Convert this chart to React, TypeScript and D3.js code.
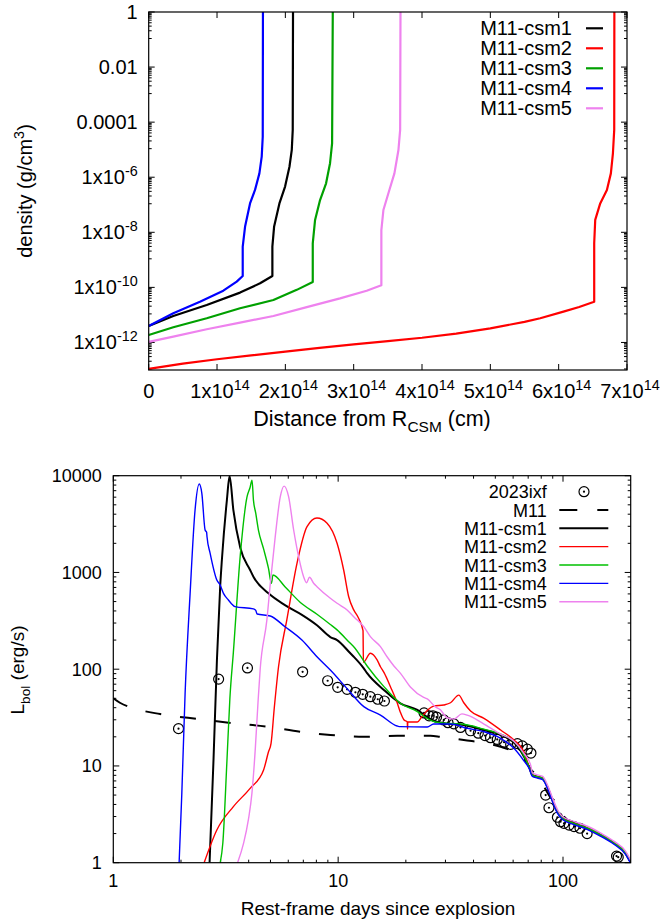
import React from 'react';
import * as d3 from 'd3';

const FONT = "'Liberation Sans', Arial, Helvetica, sans-serif";

// ---------------- Top panel: density profiles ----------------
const csm1R = [0, 0.36e14, 0.849e14, 1.337e14, 1.63e14, 1.81e14, 1.81e14, 1.835e14, 1.913e14, 1.996e14, 2.06e14, 2.094e14, 2.108e14, 2.112e14];
const csm1Rho = [3.98e-12, 9.12e-12, 2.29e-11, 6.46e-11, 1.41e-10, 2.6e-10, 3.02e-9, 1.58e-8, 1.12e-7, 4.57e-7, 2.4e-6, 9.77e-6, 5.25e-5, 1];

const csm2R = [0, 0.5e14, 1e14, 1.5e14, 2e14, 2.5e14, 3e14, 3.5e14, 4e14, 4.5e14, 5e14, 5.5e14, 5.73e14, 6.07e14, 6.3e14, 6.52e14, 6.52e14, 6.535e14, 6.608e14, 6.706e14, 6.764e14, 6.794e14, 6.813e14, 6.815e14];
const csm2Rho = [1.1e-13, 1.7e-13, 2.45e-13, 3.39e-13, 4.68e-13, 6.31e-13, 8.51e-13, 1.12e-12, 1.48e-12, 2.09e-12, 3.24e-12, 5.62e-12, 7.59e-12, 1.32e-11, 1.95e-11, 3.02e-11, 3.98e-9, 2.82e-8, 1.12e-7, 3.47e-7, 1.38e-6, 7.41e-6, 5.25e-5, 1];

const csm3R = [0, 0.36e14, 0.849e14, 1.337e14, 1.825e14, 2.167e14, 2.401e14, 2.401e14, 2.435e14, 2.508e14, 2.596e14, 2.654e14, 2.684e14, 2.694e14];
const csm3Rho = [1.86e-12, 3.55e-12, 7.59e-12, 1.74e-11, 3.47e-11, 8.13e-11, 1.58e-10, 3.98e-9, 2.82e-8, 1.48e-7, 6.03e-7, 3.24e-6, 1.7e-5, 1];

const csm4R = [0, 0.36e14, 0.75e14, 1.092e14, 1.288e14, 1.376e14, 1.376e14, 1.41e14, 1.483e14, 1.556e14, 1.62e14, 1.654e14, 1.669e14, 1.672e14];
const csm4Rho = [3.98e-12, 1.15e-11, 3.02e-11, 7.59e-11, 1.62e-10, 2.6e-10, 3.02e-9, 1.58e-8, 1.12e-7, 3.47e-7, 1.38e-6, 5.62e-6, 2.95e-5, 1];

const csm5R = [0, 0.36e14, 0.849e14, 1.337e14, 1.825e14, 2.313e14, 2.8e14, 3.19e14, 3.405e14, 3.405e14, 3.435e14, 3.508e14, 3.596e14, 3.655e14, 3.68e14, 3.685e14];
const csm5Rho = [1.05e-12, 1.62e-12, 3.02e-12, 5.25e-12, 9.12e-12, 1.91e-11, 3.98e-11, 7.59e-11, 1.2e-10, 1.2e-8, 6.46e-8, 2.63e-7, 1.38e-6, 9.77e-6, 5.25e-5, 1];

const topNames = ['M11-csm1', 'M11-csm2', 'M11-csm3', 'M11-csm4', 'M11-csm5'];
const topColors = ['#000000', '#ff0000', '#00a000', '#0000ff', '#ee82ee'];

const topXTicks = [0, 1e14, 2e14, 3e14, 4e14, 5e14, 6e14, 7e14];
const topXTickText = ['0', '1x10^{14}', '2x10^{14}', '3x10^{14}', '4x10^{14}', '5x10^{14}', '6x10^{14}', '7x10^{14}'];
const topYTicks = [1, 0.01, 0.0001, 1e-6, 1e-8, 1e-10, 1e-12];
const topYTickText = ['1', '0.01', '0.0001', '1x10^{-6}', '1x10^{-8}', '1x10^{-10}', '1x10^{-12}'];

// ---------------- Bottom panel: bolometric light curves ----------------
const ixfDays = [1.95, 2.94, 3.95, 6.95, 8.98, 9.95, 10.96, 11.93, 12.86, 13.9, 15.0, 16.06, 24.1, 25.4, 26.4, 27.4, 29.5, 30.8, 32.7, 35, 38.8, 42, 45, 47.6, 51, 54.7, 58.5, 62.7, 65.9, 69.4, 72, 83.7, 86.6, 94.4, 97.5, 101, 106.5, 112, 119, 128, 173, 176];
const ixfLum = [24.3, 79, 103, 94, 76, 65, 62, 57.7, 55, 52, 48.9, 46.9, 35.3, 33, 33, 32, 29.9, 28, 27.2, 25, 23.1, 21.8, 20.6, 19.6, 18.8, 17.6, 16.7, 17, 16.1, 14.9, 13.6, 5.0, 3.7, 2.95, 2.65, 2.55, 2.45, 2.36, 2.27, 2.0, 1.17, 1.14];

const m11Days = [1, 1.07, 1.23, 1.615, 2.43, 3.42, 4.82, 6.79, 9.23, 13, 18.3, 25.75, 28.5, 36.2, 46.2, 52.8, 60.5, 67, 71.8, 76, 82.3, 88.1, 94.4, 97.7, 101, 112, 128.5, 147.3, 169, 190, 200];
const m11Lum = [50, 45, 39.5, 34.4, 30.4, 27.6, 25.5, 22.6, 20.9, 20.0, 20.5, 20.5, 20.0, 18.5, 17.1, 15.8, 14.0, 11.8, 9.3, 8.0, 6.1, 4.7, 4.2, 3.7, 3.0, 2.55, 2.27, 1.93, 1.59, 1.25, 1.01];

const tailDays = [70.6, 73.1, 76.9, 81.2, 85.2, 89.7, 94.4, 99.4, 111.9, 128.5, 147.3, 169, 190, 200];
const tailLum = [9.8, 8.05, 7.74, 7.45, 6.1, 4.45, 3.36, 2.88, 2.55, 2.27, 1.93, 1.59, 1.25, 1.01];
const tailLumBlue = [9.5, 7.8, 7.5, 7.2, 5.9, 4.3, 3.25, 2.8, 2.48, 2.2, 1.87, 1.54, 1.21, 0.98];
const tailDaysPink = [73.1, 76.9, 81.2, 85.2, 89.7, 94.4, 99.4, 111.9, 128.5, 147.3, 169, 190, 200];
const tailLumPink = [8.5, 8.1, 7.8, 6.4, 4.7, 3.55, 3.0, 2.67, 2.38, 2.02, 1.66, 1.31, 1.06];

const lc1Days = [2.68, 2.79, 2.89, 2.99, 3.04, 3.2, 3.29, 3.42, 3.67, 4.06, 4.2, 4.9, 5.8, 6.9, 8.05, 9.23, 9.89, 11.33, 11.73, 13, 13.45, 15.98, 18.9, 22.5, 24.9, 27, 30, 36.2, 44.5, 51, 58.5, 62.7, 67];
const lc1Lum = [1, 11.5, 125, 741, 1345, 5600, 9900, 4400, 1800, 1060, 903, 608, 460, 365, 285, 215, 200, 146, 134.5, 102, 91, 61, 44.4, 37.9, 32, 29, 27.5, 26.5, 23.5, 21.7, 18.5, 16.0, 12.5];

const lc2Days = [2.535, 2.887, 3.42, 4.06, 4.66, 4.9, 5.03, 5.2, 5.43, 5.92, 6.56, 7.27, 8.05, 8.93, 9.89, 10.58, 11.14, 11.73, 12.3, 12.9, 12.95, 13.91, 14.9, 15.42, 16, 17.08, 18.3, 18.9, 19.6, 20.3, 20.35, 20.4, 22.5, 23.5, 24.9, 26.6, 29.5, 31.6, 34.4, 36.2, 38.8, 44.5, 52.8, 60.5, 67];
const lc2Lum = [1, 2.18, 3.8, 5.87, 9.09, 14, 17.1, 40, 106, 330, 1243, 2970, 3650, 3220, 2000, 1060, 561, 410, 340, 250, 118, 146, 124.6, 106, 92, 66, 45, 36, 30, 28.5, 24, 28.5, 28.5, 32, 37.5, 41.5, 42.7, 45, 54, 45, 37, 31, 23.5, 18.5, 14];

const lc3Days = [2.99, 3.07, 3.2, 3.3, 3.42, 3.67, 3.93, 4.06, 4.14, 4.2, 4.3, 4.42, 4.66, 4.9, 5.05, 5.13, 5.8, 6.79, 8.05, 9.23, 9.89, 11.33, 11.73, 13.45, 15.98, 18.9, 22.5, 24.9, 27, 30, 36.2, 44.5, 51, 58.5, 62.7, 67];
const lc3Lum = [1, 1.6, 11, 50, 150, 1500, 6000, 7600, 9000, 5600, 4100, 2746, 1750, 1100, 773, 942, 713, 490, 370, 290, 255, 185, 171, 108, 66, 44.4, 36.4, 31, 28.5, 27.7, 27, 24, 22, 19, 16.5, 12.8];

const lc4Days = [1.962, 2.017, 2.086, 2.196, 2.31, 2.41, 2.476, 2.56, 2.6, 2.61, 2.696, 2.887, 2.987, 3.09, 3.25, 3.48, 4.2, 4.3, 4.36, 4.99, 5.8, 6.9, 8.05, 9.23, 10.96, 13, 15.42, 18.3, 18.9, 24.9, 26.6, 31.6, 37.5, 44.5, 52.8, 60.5, 67];
const lc4Lum = [1, 5.2, 56, 608, 4420, 8200, 6580, 2750, 2600, 2350, 1578, 836, 741, 608, 519, 443, 420, 405, 372, 355, 275, 200, 134.5, 98, 63, 41, 33.6, 25.9, 25.5, 25.3, 27.1, 27.1, 24.5, 22.6, 19.3, 15.2, 11.3];

const lc5Days = [3.57, 3.8, 3.99, 4.135, 4.28, 4.4, 4.5, 4.82, 5.0, 5.25, 5.53, 5.75, 6.02, 6.34, 6.67, 7.02, 7.23, 7.46, 7.78, 8.05, 9.23, 9.89, 10.96, 11.73, 13, 13.91, 15.42, 16.5, 17.7, 18.9, 21, 24, 25, 27, 28.5, 30.5, 32.7, 35.5, 37.5, 44, 52, 60.5, 67, 71.8];
const lc5Lum = [1, 1.6, 2.8, 5.2, 15, 45, 100, 323, 800, 2344, 6070, 7800, 6070, 2746, 1456, 903, 783, 891, 773, 713, 541, 480, 410, 349, 275, 217, 171, 134.5, 108, 91, 65, 51, 49, 41, 38, 31.5, 30.5, 34.5, 33.5, 27.6, 21.7, 18, 13.5, 10.2];

const botXTicks = [1, 10, 100];
const botXTickText = ['1', '10', '100'];
const botYTicks = [1, 10, 100, 1000, 10000];
const botYTickText = ['1', '10', '100', '1000', '10000'];

const zip = (a: number[], b: number[]) => a.map((v, i) => [v, b[i]] as [number, number]);

function rich(text: string, size: number) {
  const parts = text.split(/(\^\{[^}]*\}|_\{[^}]*\})/).filter((p) => p !== '');
  let off = 0;
  const small = size * 0.72;
  return parts.map((p, i) => {
    let target = 0;
    let fs = size;
    let content = p;
    if (p.startsWith('^{')) {
      target = -size * 0.42;
      fs = small;
      content = p.slice(2, -1);
    } else if (p.startsWith('_{')) {
      target = size * 0.3;
      fs = small;
      content = p.slice(2, -1);
    }
    const dy = target - off;
    off = target;
    return (
      <tspan key={i} dy={dy} fontSize={fs}>
        {content}
      </tspan>
    );
  });
}

export default function App() {
  // ---- Top panel scales ----
  const tL = 148.7, tR = 627, tT = 12, tB = 370;
  const xT = d3.scaleLinear().domain([0, 7e14]).range([tL, tR]);
  const yT = d3.scaleLog().domain([1e-13, 1]).range([tB, tT]);
  const lineT = d3.line<[number, number]>().x((d) => xT(d[0])).y((d) => yT(d[1]));

  const topData = [zip(csm1R, csm1Rho), zip(csm2R, csm2Rho), zip(csm3R, csm3Rho), zip(csm4R, csm4Rho), zip(csm5R, csm5Rho)];

  const topMinorY: number[] = [];
  for (let a = -14; a < 0; a += 2) {
    const lo = Math.pow(10, a), hi = Math.pow(10, a + 2);
    for (let k = 1; k <= 9; k++) {
      const v = lo + (k * (hi - lo)) / 10;
      if (v >= 1e-13 && v <= 1) topMinorY.push(v);
    }
  }

  // ---- Bottom panel scales ----
  const bL = 113.3, bR = 630.7, bT = 475.7, bB = 862.7;
  const xB = d3.scaleLog().domain([1, 200]).range([bL, bR]);
  const yB = d3.scaleLog().domain([1, 10000]).range([bB, bT]);
  const lineB = d3.line<[number, number]>().x((d) => xB(d[0])).y((d) => yB(d[1])).curve(d3.curveMonotoneX);

  const botMinorX: number[] = [];
  [1, 10, 100].forEach((p) => {
    for (let k = 2; k <= 9; k++) {
      const v = k * p;
      if (v < 200) botMinorX.push(v);
    }
  });
  const botMinorY: number[] = [];
  [1, 10, 100, 1000].forEach((p) => {
    for (let k = 2; k <= 9; k++) botMinorY.push(k * p);
  });

  const tail = zip(tailDays, tailLum);
  const botSeries = [
    { name: 'M11-csm1', color: '#000000', w: 2.0, pts: zip(lc1Days, lc1Lum).concat(tail) },
    { name: 'M11-csm2', color: '#ff0000', w: 1.4, pts: zip(lc2Days, lc2Lum).concat(tail) },
    { name: 'M11-csm3', color: '#00c000', w: 1.4, pts: zip(lc3Days, lc3Lum).concat(tail) },
    { name: 'M11-csm4', color: '#0000ff', w: 1.4, pts: zip(lc4Days, lc4Lum).concat(zip(tailDays, tailLumBlue)) },
    { name: 'M11-csm5', color: '#ee82ee', w: 1.4, pts: zip(lc5Days, lc5Lum).concat(zip(tailDaysPink, tailLumPink)) },
  ];
  const m11 = zip(m11Days, m11Lum);
  const ixf = zip(ixfDays, ixfLum);

  const tf = 20; // top font size
  const bf = 18; // bottom font size

  return (
    <svg width={663} height={923} style={{ position: 'absolute', left: 0, top: 0, background: '#fff' }} fontFamily={FONT}>
      <defs>
        <clipPath id="clipTop">
          <rect x={tL} y={tT} width={tR - tL} height={tB - tT} />
        </clipPath>
        <clipPath id="clipBot">
          <rect x={bL} y={bT} width={bR - bL} height={bB - bT} />
        </clipPath>
      </defs>
      <rect x={0} y={0} width={663} height={923} fill="#fff" />

      {/* ================= TOP PANEL ================= */}
      <g stroke="#000" strokeWidth={1}>
        {topXTicks.map((v, i) => (
          <g key={'tx' + i}>
            <line x1={xT(v)} x2={xT(v)} y1={tB} y2={tB - 6} />
            <line x1={xT(v)} x2={xT(v)} y1={tT} y2={tT + 6} />
          </g>
        ))}
        {topYTicks.map((v, i) => (
          <g key={'ty' + i}>
            <line x1={tL} x2={tL + 6} y1={yT(v)} y2={yT(v)} />
            <line x1={tR} x2={tR - 6} y1={yT(v)} y2={yT(v)} />
          </g>
        ))}
        {topMinorY.map((v, i) => (
          <g key={'tmy' + i}>
            <line x1={tL} x2={tL + 3} y1={yT(v)} y2={yT(v)} />
            <line x1={tR} x2={tR - 3} y1={yT(v)} y2={yT(v)} />
          </g>
        ))}
      </g>

      <g clipPath="url(#clipTop)" fill="none">
        {topData.map((pts, i) => (
          <path key={'tl' + i} d={lineT(pts) || ''} stroke={topColors[i]} strokeWidth={2.2} strokeLinejoin="round" />
        ))}
      </g>

      <rect x={tL} y={tT} width={tR - tL} height={tB - tT} fill="none" stroke="#000" strokeWidth={1.2} />

      {topYTickText.map((t, i) => (
        <text key={'tyl' + i} x={tL - 11} y={yT(topYTicks[i]) + 7} textAnchor="end" fontSize={tf}>
          {rich(t, tf)}
        </text>
      ))}
      {topXTickText.map((t, i) => (
        <text key={'txl' + i} x={xT(topXTicks[i]) + (i === 0 ? 0 : 3)} y={398} textAnchor="middle" fontSize={tf}>
          {rich(t, tf)}
        </text>
      ))}
      <text x={372} y={426} textAnchor="middle" fontSize={21.5}>
        {rich('Distance from R_{CSM} (cm)', 21.5)}
      </text>
      <text transform={`translate(32,191) rotate(-90)`} textAnchor="middle" fontSize={tf}>
        {rich('density (g/cm^{3})', tf)}
      </text>

      {/* top legend */}
      {topNames.map((n, i) => {
        const y = 28.3 + i * 20;
        return (
          <g key={'tlg' + i}>
            <text x={572} y={y + 7} textAnchor="end" fontSize={tf}>
              {n}
            </text>
            <line x1={586} x2={603} y1={y} y2={y} stroke={topColors[i]} strokeWidth={2.2} />
          </g>
        );
      })}

      {/* ================= BOTTOM PANEL ================= */}
      <g stroke="#000" strokeWidth={1}>
        {botXTicks.map((v, i) => (
          <g key={'bx' + i}>
            <line x1={xB(v)} x2={xB(v)} y1={bB} y2={bB - 6} />
            <line x1={xB(v)} x2={xB(v)} y1={bT} y2={bT + 6} />
          </g>
        ))}
        {botMinorX.map((v, i) => (
          <g key={'bmx' + i}>
            <line x1={xB(v)} x2={xB(v)} y1={bB} y2={bB - 3} />
            <line x1={xB(v)} x2={xB(v)} y1={bT} y2={bT + 3} />
          </g>
        ))}
        {botYTicks.map((v, i) => (
          <g key={'by' + i}>
            <line x1={bL} x2={bL + 6} y1={yB(v)} y2={yB(v)} />
            <line x1={bR} x2={bR - 6} y1={yB(v)} y2={yB(v)} />
          </g>
        ))}
        {botMinorY.map((v, i) => (
          <g key={'bmy' + i}>
            <line x1={bL} x2={bL + 3} y1={yB(v)} y2={yB(v)} />
            <line x1={bR} x2={bR - 3} y1={yB(v)} y2={yB(v)} />
          </g>
        ))}
      </g>

      <g clipPath="url(#clipBot)">
        {ixf.map((d, i) => (
          <g key={'pt' + i}>
            <circle cx={xB(d[0])} cy={yB(d[1])} r={5} fill="none" stroke="#000" strokeWidth={1.2} />
            <circle cx={xB(d[0])} cy={yB(d[1])} r={1.1} fill="#000" />
          </g>
        ))}
        <path d={lineB(m11) || ''} fill="none" stroke="#000" strokeWidth={2} strokeDasharray="16,19" />
        {botSeries.map((s, i) => (
          <path key={'bl' + i} d={lineB(s.pts) || ''} fill="none" stroke={s.color} strokeWidth={s.w} strokeLinejoin="round" />
        ))}
      </g>

      <rect x={bL} y={bT} width={bR - bL} height={bB - bT} fill="none" stroke="#000" strokeWidth={1.2} />

      {botYTickText.map((t, i) => (
        <text key={'byl' + i} x={101.7} y={yB(botYTicks[i]) + 6.5} textAnchor="end" fontSize={bf}>
          {t}
        </text>
      ))}
      {botXTickText.map((t, i) => (
        <text key={'bxl' + i} x={xB(botXTicks[i])} y={887} textAnchor="middle" fontSize={bf}>
          {t}
        </text>
      ))}
      <text x={378} y={915} textAnchor="middle" fontSize={19}>
        Rest-frame days since explosion
      </text>
      <text transform={`translate(24,670) rotate(-90)`} textAnchor="middle" fontSize={19}>
        {rich('L_{bol} (erg/s)', 19)}
      </text>

      {/* bottom legend */}
      <g>
        <text x={546.7} y={491.7 + 6.5} textAnchor="end" fontSize={bf}>2023ixf</text>
        <circle cx={584} cy={491.7} r={5} fill="none" stroke="#000" strokeWidth={1.2} />
        <circle cx={584} cy={491.7} r={1.1} fill="#000" />
        <text x={546.7} y={510 + 6.5} textAnchor="end" fontSize={bf}>M11</text>
        <line x1={559.3} x2={608.3} y1={510} y2={510} stroke="#000" strokeWidth={2} strokeDasharray="18,20" />
        {botSeries.map((s, i) => {
          const y = 528.3 + i * 18.35;
          return (
            <g key={'blg' + i}>
              <text x={546.7} y={y + 6.5} textAnchor="end" fontSize={bf}>
                {s.name}
              </text>
              <line x1={559.3} x2={608.3} y1={y} y2={y} stroke={s.color} strokeWidth={s.w} />
            </g>
          );
        })}
      </g>
    </svg>
  );
}
